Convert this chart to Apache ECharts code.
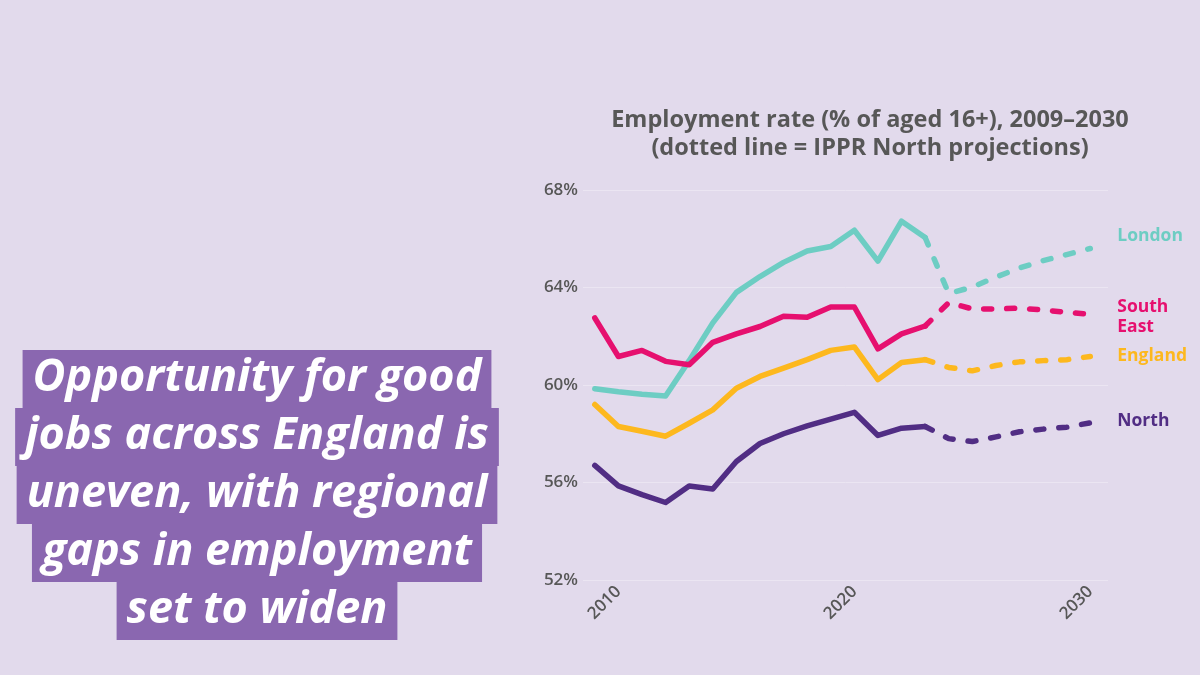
<!DOCTYPE html>
<html>
<head>
<meta charset="utf-8">
<title>Employment rate 2009-2030</title>
<script src="https://cdn.jsdelivr.net/npm/echarts@6/dist/echarts.min.js"></script>
<style>
  html, body { margin: 0; padding: 0; background: #e2daec; }
  #chart { width: 1200px; height: 675px; }
</style>
</head>
<body>
<div id="chart"></div>
<script>
// actual years and values (%)
const years = [2009, 2010, 2011, 2012, 2013, 2014, 2015, 2016, 2017, 2018, 2019, 2020, 2021, 2022, 2023];
const london = [59.85, 59.72, 59.62, 59.55, 61.0, 62.55, 63.8, 64.45, 65.03, 65.5, 65.68, 66.35, 65.08, 66.72, 66.05];
const southEast = [62.75, 61.17, 61.42, 60.97, 60.83, 61.75, 62.1, 62.4, 62.82, 62.78, 63.2, 63.2, 61.48, 62.1, 62.42];
const england = [59.2, 58.3, 58.1, 57.9, 58.43, 58.98, 59.87, 60.35, 60.69, 61.04, 61.42, 61.56, 60.22, 60.92, 61.04];
const north = [56.7, 55.86, 55.5, 55.18, 55.86, 55.73, 56.86, 57.6, 58.0, 58.32, 58.6, 58.88, 57.93, 58.23, 58.3];

// IPPR North projections
const projYears = [2024, 2025, 2026, 2027, 2028, 2029, 2030];
const londonProj = [63.75, 64.02, 64.43, 64.8, 65.1, 65.35, 65.6];
const southEastProj = [63.38, 63.12, 63.12, 63.15, 63.08, 62.98, 62.9];
const englandProj = [60.72, 60.58, 60.8, 60.95, 61.0, 61.04, 61.17];
const northProj = [57.8, 57.68, 57.87, 58.08, 58.19, 58.27, 58.45];

const regionNames = ['London', 'South East', 'England', 'North'];
const regionLabels = ['London', 'South\nEast', 'England', 'North'];
const regionColors = ['#6dcdc3', '#e6106f', '#fdb81e', '#512d84'];
const xTickLabels = [2010, 2020, 2030];

const headline = [
  'Opportunity for good',
  'jobs across England is',
  'uneven, with regional',
  'gaps in employment',
  'set to widen'
];

const actualSets = [london, southEast, england, north];
const projSets = [londonProj, southEastProj, englandProj, northProj];
const labelOffsets = [[0, -12], [0, 3], [0, 0], [0, -2]];

function pairs(xs, ys) {
  return xs.map((x, i) => [x, ys[i]]);
}

const chart = echarts.init(document.getElementById('chart'));

const series = [];
actualSets.forEach((vals, k) => {
  series.push({
    name: regionNames[k],
    type: 'line',
    data: pairs(years, vals),
    showSymbol: false,
    lineStyle: { color: regionColors[k], width: 5.5, cap: 'round', join: 'round' },
    z: 3
  });
});
projSets.forEach((vals, k) => {
  const last = actualSets[k][actualSets[k].length - 1];
  series.push({
    name: regionNames[k] + ' projection',
    type: 'line',
    data: [[years[years.length - 1], last]].concat(pairs(projYears, vals)),
    showSymbol: false,
    lineStyle: { color: regionColors[k], width: 5.5, type: [8, 15], cap: 'round', join: 'round' },
    endLabel: {
      show: true,
      formatter: regionLabels[k],
      color: regionColors[k],
      fontFamily: 'Open Sans, sans-serif',
      fontSize: 17.5,
      fontWeight: 'bold',
      lineHeight: 20,
      distance: 27,
      offset: labelOffsets[k]
    },
    z: 3
  });
});

// headline lines, each on its own purple band
const graphics = headline.map((line, i) => ({
  type: 'text',
  z: 10,
  style: {
    text: line,
    x: 257,
    y: 350 + i * 58,
    textAlign: 'center',
    textVerticalAlign: 'top',
    fill: '#ffffff',
    font: 'italic bold 45px "Open Sans", sans-serif',
    backgroundColor: '#8a67b0',
    padding: [2, 10, 3, 10],
    lineHeight: 53
  }
}));

chart.setOption({
  backgroundColor: '#e2daec',
  animation: false,
  title: {
    text: 'Employment rate (% of aged 16+), 2009–2030\n(dotted line = IPPR North projections)',
    left: 865,
    top: 101,
    textAlign: 'center',
    textStyle: {
      color: '#575757',
      fontFamily: 'Open Sans, sans-serif',
      fontSize: 23.5,
      fontWeight: 'bold',
      lineHeight: 28
    }
  },
  grid: {
    left: 583,
    right: 92,
    top: 190,
    bottom: 95,
    outerBoundsMode: 'none'
  },
  xAxis: {
    type: 'value',
    min: 2008.5,
    max: 2030.75,
    axisLine: { show: false },
    axisTick: { show: false },
    splitLine: { show: false },
    axisLabel: {
      customValues: xTickLabels,
      formatter: v => String(v),
      rotate: 45,
      margin: 9,
      color: '#575757',
      fontFamily: 'Open Sans, sans-serif',
      fontSize: 17,
      fontWeight: 600
    }
  },
  yAxis: {
    type: 'value',
    min: 52,
    max: 68,
    interval: 4,
    axisLine: { show: false },
    axisTick: { show: false },
    splitLine: { lineStyle: { color: '#ebe5f2', width: 1 } },
    axisLabel: {
      formatter: '{value}%',
      margin: 5,
      color: '#575757',
      fontFamily: 'Open Sans, sans-serif',
      fontSize: 17,
      fontWeight: 600
    }
  },
  graphic: graphics,
  series: series
});
</script>
</body>
</html>
